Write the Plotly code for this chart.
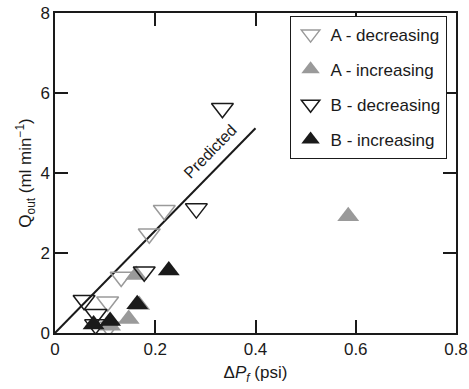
import plotly.graph_objects as go

# Data
a_dec_x = [0.218, 0.188, 0.132, 0.105, 0.107]
a_dec_y = [3.07, 2.48, 1.40, 0.78, 0.15]
a_inc_x = [0.585, 0.162, 0.168, 0.147, 0.110]
a_inc_y = [2.92, 1.45, 0.70, 0.35, 0.18]
b_dec_x = [0.334, 0.282, 0.178, 0.058, 0.082, 0.081]
b_dec_y = [5.62, 3.11, 1.53, 0.82, 0.47, 0.21]
b_inc_x = [0.227, 0.164, 0.110, 0.077]
b_inc_y = [1.56, 0.72, 0.30, 0.21]
pred_x = [0.0, 0.4]
pred_y = [0.0, 5.12]

x_ticks = [0, 0.2, 0.4, 0.6, 0.8]
x_tick_labels = ["0", "0.2", "0.4", "0.6", "0.8"]
y_ticks = [0, 2, 4, 6, 8]
y_tick_labels = ["0", "2", "4", "6", "8"]

GRAY = "#9a9a9a"
BLACK = "#1a1a1a"
FONT = "Liberation Sans, Arial, sans-serif"
MS = 19

fig = go.Figure()
fig.add_trace(go.Scatter(x=pred_x, y=pred_y, mode="lines",
                         line=dict(color=BLACK, width=2), showlegend=False))
fig.add_trace(go.Scatter(x=a_dec_x, y=a_dec_y, mode="markers", name="A - decreasing",
                         legendgroup="1",
                         marker=dict(symbol="triangle-down-open", size=MS, color=GRAY,
                                     line=dict(width=1.5, color=GRAY))))
fig.add_trace(go.Scatter(x=a_inc_x, y=a_inc_y, mode="markers", name="A - increasing",
                         legendgroup="2",
                         marker=dict(symbol="triangle-up", size=MS, color=GRAY,
                                     line=dict(width=0))))
fig.add_trace(go.Scatter(x=b_dec_x, y=b_dec_y, mode="markers", name="B - decreasing",
                         legendgroup="3",
                         marker=dict(symbol="triangle-down-open", size=MS, color=BLACK,
                                     line=dict(width=1.5, color=BLACK))))
fig.add_trace(go.Scatter(x=b_inc_x, y=b_inc_y, mode="markers", name="B - increasing",
                         legendgroup="4",
                         marker=dict(symbol="triangle-up", size=MS, color=BLACK,
                                     line=dict(width=0))))

fig.add_annotation(x=0.309, y=4.55, text="Predicted", showarrow=False,
                   textangle=-45.6, font=dict(size=16, color=BLACK, family=FONT))

axis_common = dict(showgrid=False, zeroline=False, showline=True, linecolor=BLACK,
                   linewidth=1.5, mirror="ticks", ticks="inside", ticklen=13,
                   tickwidth=1.5, tickcolor=BLACK, automargin=False,
                   tickfont=dict(size=17, color=BLACK, family=FONT))

fig.update_layout(
    width=469, height=389,
    margin=dict(l=55, r=13, t=13, b=56),
    paper_bgcolor="white", plot_bgcolor="white",
    font=dict(family=FONT, color=BLACK, size=17),
    xaxis=dict(range=[0, 0.8], tickvals=x_ticks, ticktext=x_tick_labels,
               title=dict(text="Δ<i>P<sub>f</sub></i> (psi)", font=dict(size=17), standoff=8),
               **axis_common),
    yaxis=dict(range=[0, 8], tickvals=y_ticks, ticktext=y_tick_labels,
               title=dict(text="Q<sub>out</sub> (ml min<sup>−1</sup>)", font=dict(size=17), standoff=4),
               **axis_common),
    legend=dict(x=0.585, y=0.992, xanchor="left", yanchor="top",
                bgcolor="white", bordercolor=BLACK, borderwidth=1,
                font=dict(size=17, color=BLACK, family=FONT),
                tracegroupgap=10, itemsizing="trace"),
)

fig.write_html("out.html", config={"displayModeBar": False},
               post_script="document.body.style.margin='0';document.body.style.overflow='hidden';")
